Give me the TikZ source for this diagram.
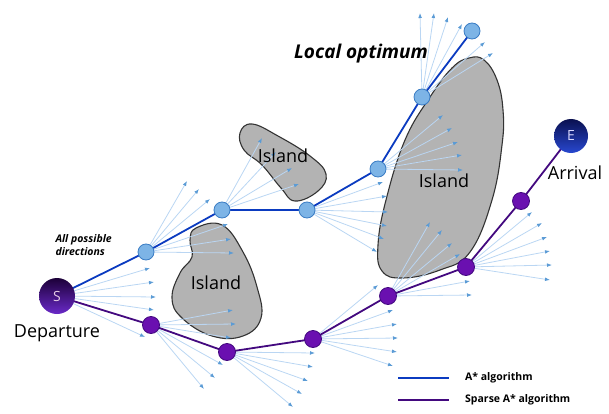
\documentclass[tikz,border=0pt]{standalone}
\usepackage{fontspec}
\setmainfont{Open Sans}
\usetikzlibrary{arrows.meta, positioning, backgrounds}
\definecolor{astar}{HTML}{0B3BC0}
\definecolor{sparse}{HTML}{43097F}
\definecolor{raycol}{HTML}{BAD6F3}
\definecolor{rayhead}{HTML}{5B9BD5}
\definecolor{isle}{HTML}{B3B3B3}
\definecolor{bluefill}{HTML}{7DB4E6}
\definecolor{blueline}{HTML}{3A7CC4}
\definecolor{purplefill}{HTML}{6A10B0}
\definecolor{sdark}{HTML}{1C0038}
\definecolor{slight}{HTML}{6A2AC8}
\definecolor{edark}{HTML}{0A1050}
\definecolor{elight}{HTML}{2848D0}

\begin{document}
\begin{tikzpicture}[x=1pt, y=-1pt]
    \tikzstyle{ray} = [raycol, line width=0.8pt, -{Latex[length=5pt,width=3.8pt,color=rayhead]}]
    \tikzstyle{astep} = [circle, draw=blueline, fill=bluefill, line width=0.8pt, minimum size=16pt, inner sep=0pt]
    \tikzstyle{sstep} = [circle, draw=sparse, fill=purplefill, line width=0.8pt, minimum size=17pt, inner sep=0pt]
    \tikzstyle{island} = [draw=black!80, fill=isle, line width=1.1pt]
    \tikzstyle{terminal} = [circle, minimum size=36pt, inner sep=0pt, font=\fontsize{14}{14}\selectfont]
    \tikzstyle{big} = [font=\fontsize{18}{18}\selectfont]
    \tikzstyle{legend} = [font=\fontsize{10.5}{10.5}\selectfont\bfseries, inner sep=0pt]

    \useasboundingbox (0,0) rectangle (609,414);

    % start and goal
    \node [terminal, top color=sdark, bottom color=slight, text=violet!20] (S) at (57,296) {S};
    \node [terminal, minimum size=34pt, top color=edark, bottom color=elight, text=blue!15] (E) at (571,136) {E};
    \node [big, below of=S, node distance=37pt] (dep) {Departure};
    \node [big, below of=E, node distance=37pt, xshift=4pt] (arr) {Arrival};

    % A* steps
    \node [astep] (a1) at (146,252) {};
    \node [astep] (a2) at (222,210) {};
    \node [astep] (a3) at (307,210) {};
    \node [astep] (a4) at (378,169) {};
    \node [astep] (a5) at (422,97) {};
    \node [astep] (a6) at (472,31) {};

    % sparse A* steps
    \node [sstep] (b1) at (151,325) {};
    \node [sstep] (b2) at (227,352) {};
    \node [sstep] (b3) at (313,339) {};
    \node [sstep] (b4) at (388,296) {};
    \node [sstep] (b5) at (466,267) {};
    \node [sstep] (b6) at (521,201) {};

    % islands
    \begin{scope}[on background layer]
        \draw [island] plot [smooth cycle, tension=0.7] coordinates {(240,133) (252,124) (278,136) (310,156) (326,174) (318,191) (295,201) (281,188) (262,165) (244,150)};
        \draw [island] plot [smooth cycle, tension=0.7] coordinates {(196,228) (222,225) (243,252) (257,287) (261,318) (243,336) (212,336) (182,318) (172,298) (180,273) (192,257) (190,240)};
        \draw [island] plot [smooth cycle, tension=0.7] coordinates {(469,58) (484,60) (497,80) (503,110) (502,145) (492,200) (470,252) (440,270) (403,278) (382,271) (378,245) (386,200) (405,140) (430,97) (452,68)};

        % search directions from every step
        \foreach \from/\tips in {
            S/{150/268,154/282,156/297,154/310,145/337},
            a1/{187/181,199/189,210/199,228/224,231/239,234/253},
            a2/{262/138,276/152,292/168,299/184},
            a3/{383/182,387/196,388/212,387/226,384/239,377/252},
            a4/{443/115,452/128,458/142,462/155,463/170},
            a5/{420/13,434/13,448/17,462/24,485/42,493/53},
            b1/{233/310,236/324,231/338,223/365,215/378,204/389},
            b2/{315/353,313/367,308/381,302/394,293/407},
            b3/{378/285,393/310,397/324,398/338,397/352,393/366},
            b4/{430/222,442/230,452/243,460/254,470/281,472/295},
            b5/{532/212,542/223,547/237,550/251,552/265,550/280}} {
            \foreach \x/\y [count=\i] in \tips {
                \coordinate (\from-\i) at (\x,\y);
                \draw [ray] (\from.center) -- (\from-\i);
            }
        }

        \draw [astar, line width=1.8pt] (S.center) -- (a1.center) -- (a2.center) -- (a3.center) -- (a4.center) -- (a5.center) -- (a6.center);
        \draw [sparse, line width=1.8pt] (S.center) -- (b1.center) -- (b2.center) -- (b3.center) -- (b4.center) -- (b5.center) -- (b6.center) -- (E.center);
    \end{scope}

    \node [big] (isl1) at (283,156) {Island};
    \node [big] (isl2) at (216,283) {Island};
    \node [big] (isl3) at (444,181) {Island};

    \node [font=\fontsize{19}{19}\selectfont\bfseries\itshape] (optimum) at (361,54) {Local optimum};
    \node [font=\fontsize{10.5}{12.5}\selectfont\bfseries\itshape, align=left, anchor=west] (dirs) at (52,245) {All possible\\directions};

    % legend
    \coordinate (la1) at (398,378);
    \coordinate (la2) at (449,378);
    \coordinate (lb1) at (398,400);
    \coordinate (lb2) at (449,400);
    \draw [astar, line width=2.5pt] (la1) -- (la2);
    \draw [sparse, line width=2.5pt] (lb1) -- (lb2);
    \node [legend, right=16pt of la2] (lgA) {A* algorithm};
    \node [legend, right=16pt of lb2] (lgB) {Sparse A* algorithm};
\end{tikzpicture}
\end{document}
